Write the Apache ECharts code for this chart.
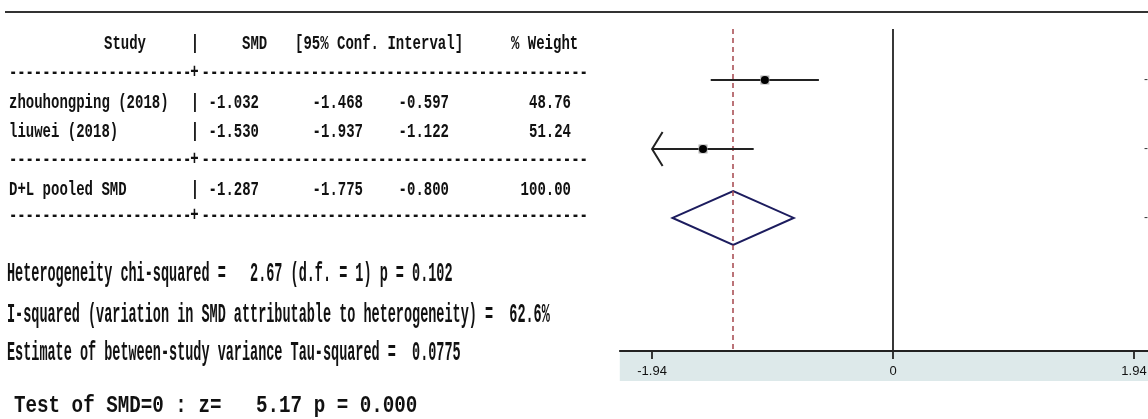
<!DOCTYPE html>
<html>
<head>
<meta charset="utf-8">
<script src="https://cdn.jsdelivr.net/npm/echarts@6/dist/echarts.min.js"></script>
<style>
html,body{margin:0;padding:0;background:#fff;}
#chart{width:1148px;height:419px;}
</style>
</head>
<body>
<div id="chart"></div>
<script>
// ---------------- data ----------------
const studies = ['zhouhongping (2018)', 'liuwei (2018)'];
const smd = [-1.032, -1.530];
const ciLow = [-1.468, -1.937];
const ciHigh = [-0.597, -1.122];
const weights = ['48.76', '51.24'];
const arrowLeft = [false, true];

const pooledLabel = 'D+L pooled SMD';
const pooledSmd = -1.287;
const pooledLow = -1.775;
const pooledHigh = -0.800;
const pooledWeight = '100.00';

const xTicks = [-1.94, 0, 1.94];
const headers = ['Study', '|', 'SMD', '[95% Conf. Interval]', '% Weight'];
const statLines = [
  'Heterogeneity chi-squared =   2.67 (d.f. = 1) p = 0.102',
  'I-squared (variation in SMD attributable to heterogeneity) =  62.6%',
  'Estimate of between-study variance Tau-squared =  0.0775'
];
const testLine = 'Test of SMD=0 : z=   5.17 p = 0.000';

// ---------------- layout ----------------
const GRID = {left: 619.8, width: 546.5, top: 29, height: 322};
const X_MIN = -2.2, X_MAX = 2.2;
const Y_MIN = 0.26, Y_MAX = 4.93;

const tblFont = {fontFamily: 'Liberation Mono', fontSize: 20, fontWeight: 'bold', fill: '#111'};
const TBL_SX = 0.7;
function t(text, x, y, align, extra) {
  return Object.assign({
    type: 'text', x: x, y: y, scaleX: TBL_SX, silent: true,
    style: Object.assign({text: text, align: align || 'left', verticalAlign: 'middle'}, tblFont)
  }, extra || {});
}

const graphics = [];
// top rule
graphics.push({type: 'line', silent: true, shape: {x1: 5, y1: 12, x2: 1148, y2: 12}, style: {stroke: '#333', lineWidth: 2}});
// axis band
graphics.push({type: 'rect', silent: true, z: -5, shape: {x: GRID.left, y: GRID.top + GRID.height, width: 1148 - GRID.left, height: 30}, style: {fill: '#dde9ea'}});

// header
const hx = [104, 195, 242, 295, 511];
const hAlign = ['left', 'center', 'left', 'left', 'left'];
headers.forEach((h, i) => graphics.push(t(h, hx[i], 44, hAlign[i])));

// dashed separators
function sep(y) {
  graphics.push(t('-'.repeat(22), 9, y, 'left', {scaleX: 0.69}));
  graphics.push(t('+', 194.5, y, 'center'));
  graphics.push(t('-'.repeat(46), 588, y, 'right'));
}
sep(73); sep(160); sep(216);

function row(name, v, lo, hi, w, y) {
  graphics.push(t(name, 9, y, 'left'));
  graphics.push(t('|', 195, y, 'center'));
  graphics.push(t(v.toFixed(3), 259, y, 'right'));
  graphics.push(t(lo.toFixed(3), 363, y, 'right'));
  graphics.push(t(hi.toFixed(3), 449, y, 'right'));
  graphics.push(t(w, 571, y, 'right'));
}
const rowY = [103, 132];
studies.forEach((s, i) => row(s, smd[i], ciLow[i], ciHigh[i], weights[i], rowY[i]));
row(pooledLabel, pooledSmd, pooledLow, pooledHigh, pooledWeight, 190);

// stats lines
const statY = [274, 315, 353];
statLines.forEach((s, i) => graphics.push({
  type: 'text', x: 7, y: statY[i], scaleX: 0.5, silent: true,
  style: {text: s, align: 'left', verticalAlign: 'middle', fontFamily: 'Liberation Mono', fontSize: 27, fontWeight: 'bold', fill: '#111'}
}));
graphics.push({
  type: 'text', x: 14, y: 406, scaleX: 0.835, silent: true,
  style: {text: testLine, align: 'left', verticalAlign: 'middle', fontFamily: 'Liberation Mono', fontSize: 23, fontWeight: 'bold', fill: '#111'}
});

// ---------------- series data ----------------
const studyData = studies.map((s, i) => [i + 1, smd[i], ciLow[i], ciHigh[i], arrowLeft[i] ? 1 : 0]);
const pooledData = [[studies.length + 1, pooledSmd, pooledLow, pooledHigh]];

function edgeText(row, est, lo, hi, api) {
  const p = api.coord([xTicks[2], row]);
  return {
    type: 'text', x: p[0] + 10, y: p[1],
    style: {text: est.toFixed(2) + ' (' + lo.toFixed(2) + ', ' + hi.toFixed(2) + ')', fontFamily: 'Liberation Sans', fontSize: 12, fill: '#333', align: 'left', verticalAlign: 'middle'}
  };
}

const chart = echarts.init(document.getElementById('chart'), null, {renderer: 'canvas'});
chart.setOption({
  animation: false,
  backgroundColor: '#fff',
  graphic: {elements: graphics},
  grid: {left: GRID.left, width: GRID.width, top: GRID.top, height: GRID.height, containLabel: false, outerBoundsMode: 'none'},
  xAxis: {
    type: 'value', min: X_MIN, max: X_MAX, position: 'bottom',
    splitLine: {show: false},
    axisLine: {show: true, onZero: false, lineStyle: {color: '#222', width: 1.8}},
    axisTick: {show: true, customValues: xTicks, length: 8, lineStyle: {color: '#222', width: 1.8}},
    axisLabel: {show: true, customValues: xTicks, margin: 14, fontFamily: 'Liberation Sans', fontSize: 13, color: '#111',
      formatter: v => String(v)}
  },
  yAxis: {type: 'value', min: Y_MIN, max: Y_MAX, inverse: true, show: false, splitLine: {show: false}},
  series: [
    {
      type: 'custom', name: 'studies', clip: false, z: 5,
      encode: {x: 1, y: 0},
      data: studyData,
      renderItem: function (params, api) {
        const row = api.value(0), est = api.value(1), lo = api.value(2), hi = api.value(3), arrow = api.value(4);
        const leftVal = arrow ? xTicks[0] : lo;
        const p = api.coord([est, row]);
        const l = api.coord([leftVal, row]);
        const r = api.coord([hi, row]);
        const ch = [
          {type: 'line', shape: {x1: l[0], y1: l[1], x2: r[0], y2: r[1]}, style: {stroke: '#222', lineWidth: 2}},
          {type: 'rect', shape: {x: p[0] - 4.5, y: p[1] - 4.5, width: 9, height: 9}, style: {fill: '#b0b0b0'}},
          {type: 'circle', shape: {cx: p[0], cy: p[1], r: 4}, style: {fill: '#000'}},
          edgeText(row, est, lo, hi, api)
        ];
        if (arrow) {
          ch.push({type: 'polyline', shape: {points: [[l[0] + 10.5, l[1] - 17], [l[0], l[1]], [l[0] + 10.5, l[1] + 17]]},
            style: {stroke: '#222', lineWidth: 2, fill: null}});
        }
        return {type: 'group', children: ch};
      }
    },
    {
      type: 'custom', name: 'pooled', clip: false, z: 4,
      encode: {x: 1, y: 0},
      data: pooledData,
      renderItem: function (params, api) {
        const row = api.value(0), est = api.value(1), lo = api.value(2), hi = api.value(3);
        const hh = 0.39;
        const pts = [api.coord([lo, row]), api.coord([est, row - hh]), api.coord([hi, row]), api.coord([est, row + hh])];
        return {type: 'group', children: [
          {type: 'polygon', shape: {points: pts}, style: {stroke: '#1c1c5e', lineWidth: 2, fill: null}},
          edgeText(row, est, lo, hi, api)
        ]};
      },
      markLine: {
        silent: true, symbol: ['none', 'none'], label: {show: false}, animation: false,
        data: [
          {xAxis: 0, lineStyle: {color: '#222', width: 1.8, type: 'solid'}},
          {xAxis: pooledSmd, lineStyle: {color: '#a5464c', width: 1.5, type: [5, 4]}}
        ]
      }
    }
  ]
});
</script>
</body>
</html>
